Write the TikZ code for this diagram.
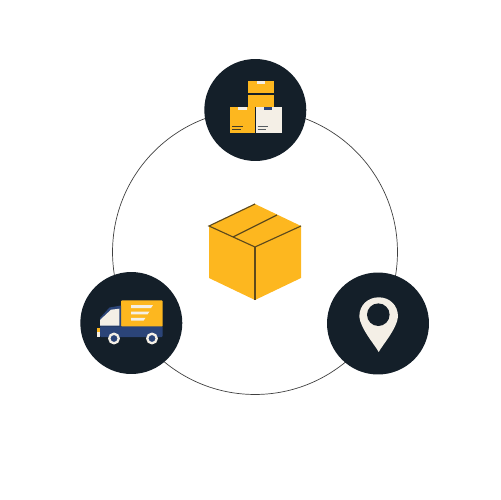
\documentclass[tikz,border=0pt]{standalone}
\usepackage{tikz}
\definecolor{navy}{HTML}{141F29}
\definecolor{amber}{HTML}{FDB71F}
\definecolor{cream}{HTML}{F4EFE6}
\definecolor{truckblue}{HTML}{2B4478}
\definecolor{seam}{HTML}{5E4A1C}
\tikzset{
  hub/.style={circle,fill=navy,minimum width=2.04cm,inner sep=0pt},
  ring/.style={circle,draw=black!75,line width=0.4pt,minimum width=5.7cm,inner sep=0pt},
  seamline/.style={draw=seam,line width=0.65pt},
  wheel/.style={circle,draw=cream,line width=1.3pt,fill=truckblue,minimum width=0.19cm,inner sep=0pt}
}
\begin{document}
\begin{tikzpicture}[x=0.02cm,y=-0.02cm]
\useasboundingbox (0,0) rectangle (500,500);
\node[ring] (loop) at (255,252) {};
\node[hub] (stock) at (255.3,110) {};
\node[hub] (truck) at (131.3,323) {};
\node[hub] (place) at (378,323.5) {};
% center box
\fill[amber] (255,204) -- (301,226) -- (301,278) -- (255,300) -- (209,278) -- (209,226) -- cycle;
\draw[seamline] (301,226) -- (255,247) -- (209,226) -- (255,204);
\draw[seamline] (255,247) -- (255,300);
\draw[seamline] (233,237) -- (277,215);
% stacked boxes
\fill[amber] (248.3,81) rectangle (274.3,107);
\draw[navy,line width=0.6pt] (248.3,94) -- (274.3,94);
\fill[cream] (257.3,81.5) rectangle (265.3,84);
\fill[amber] (230,107) rectangle (255.4,132.7);
\fill[cream] (256,107) rectangle (281.7,132.7);
\fill[cream] (238.3,107) rectangle (246.7,109.8);
\fill[truckblue] (264,107) rectangle (272.3,109.8);
\foreach \y/\w in {126.6/10.4,129.3/8.4} {
  \draw[navy!80!amber,line width=0.7pt] (232.3,\y) -- ++(\w,0);
  \draw[navy!70!cream,line width=0.7pt] (257.7,\y) -- ++(\w,0);
}
% truck
\fill[amber,rounded corners=0.6pt] (121,300.3) rectangle (162.7,327);
\fill[truckblue] (100,326.3) -- (100,318) -- (109.5,307.5) -- (121,305.5) -- (121,326.3) -- cycle;
\fill[truckblue,rounded corners=0.6pt] (100,326.3) rectangle (162.7,337);
\fill[cream] (100,325.5) -- (100,320) -- (111,309.7) -- (119.3,308.7) -- (119.3,325.5) -- cycle;
\fill[amber] (96.7,328) rectangle (100,331.5);
\fill[cream] (96.7,331.5) rectangle (100,337);
\fill[cream] (131,305) -- (153,305) -- (151,308) -- (131,308) -- cycle;
\fill[cream] (131,311.5) -- (149.5,311.5) -- (147.5,314.4) -- (131,314.4) -- cycle;
\fill[cream] (131,317.8) -- (145.5,317.8) -- (143.5,320.7) -- (131,320.7) -- cycle;
\node[wheel] (rearwheel) at (114,338.5) {};
\node[wheel] (frontwheel) at (152,338.5) {};
% map pin
\fill[cream] (378.7,352) .. controls (375,345) and (360.5,329) .. (359.3,316.6)
  .. controls (359.3,305) and (368,297.3) .. (378.7,297.3)
  .. controls (389.4,297.3) and (398,305) .. (398,316.6)
  .. controls (396.9,329) and (382.4,345) .. (378.7,352) -- cycle;
\fill[navy] (378.3,314.7) circle (11.3);
\end{tikzpicture}
\end{document}
